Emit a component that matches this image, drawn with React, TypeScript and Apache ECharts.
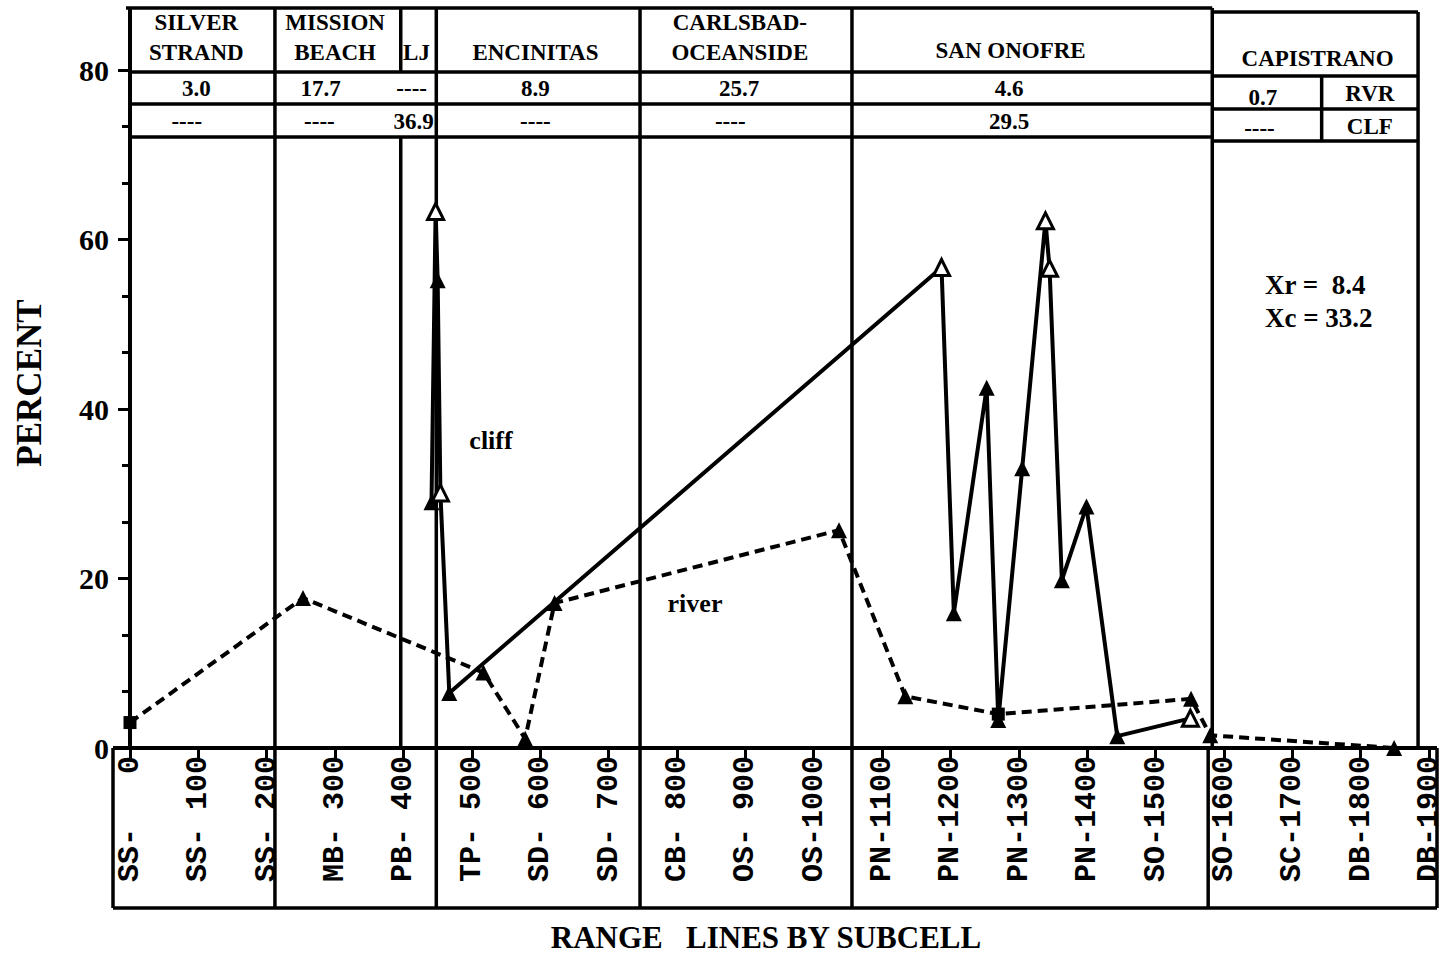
import React, { useEffect, useRef } from "react";
import * as echarts from "echarts";

// ---------- data ----------
const Y_MIN = 0;
const Y_MAX = 80;
const Y_INTERVAL = 20;

const X_MIN = 0;
const X_MAX = 1900;
const X_INTERVAL = 100;
const X_TICK_PREFIXES = [
  "SS", "SS", "SS", "MB", "PB", "TP", "SD", "SD", "CB", "OS",
  "OS", "PN", "PN", "PN", "PN", "SO", "SO", "SC", "DB", "DB",
];

// river (dashed)
const RIVER_X = [0, 253, 517, 578, 621, 1037, 1134, 1270, 1552, 1580, 1849];
const RIVER_Y = [3.0, 17.7, 8.9, 1.1, 17.1, 25.7, 6.1, 4.0, 5.8, 1.5, 0.0];
const RIVER_SYMBOLS = ["rect", "triangle", "triangle", "triangle", "triangle", "triangle", "triangle", "rect", "triangle", "triangle", "triangle"];

// cliff (solid)
const CLIFF_X = [441, 447, 450, 454, 467, 1187, 1205, 1253, 1270, 1305, 1339, 1345, 1363, 1399, 1444, 1551];
const CLIFF_Y = [29.0, 63.3, 55.2, 30.1, 6.5, 56.7, 15.9, 42.5, 3.3, 33.0, 62.2, 56.6, 19.8, 28.5, 1.4, 3.5];
const CLIFF_HOLLOW = [false, true, false, true, false, true, false, false, false, false, true, true, false, false, false, true];

// subcell table
const SUBCELL_NAMES = ["SILVER\nSTRAND", "MISSION\nBEACH", "LJ", "ENCINITAS", "CARLSBAD-\nOCEANSIDE", "SAN ONOFRE", "CAPISTRANO"];
const RVR_VALUES = ["3.0", "17.7", "----", "8.9", "25.7", "4.6", "0.7"];
const CLF_VALUES = ["----", "----", "36.9", "----", "----", "29.5", "----"];
const ROW_LABELS = ["RVR", "CLF"];
const SUBCELL_BOUNDS = [212, 396, 448, 746, 1056, 1583];
const LABEL_BOX_BOUNDS = [212, 448, 746, 1056, 1577];
const TABLE_RIGHT = 1884;
const CAP_SPLIT = 1743;

const SERIES_NAMES = ["river", "cliff"];
const STATS = ["Xr =  8.4", "Xc = 33.2"];
const X_TITLE = "RANGE\u00A0\u00A0\u00A0LINES BY SUBCELL";
const Y_TITLE = "PERCENT";

// ---------- layout (pixels / x-positions of texts) ----------
const GRID = { left: 130, right: 12, top: 70, bottom: 208 };
const HEADER_TEXT_X = [97, 300, 419, 593, 892, 1288, 1737];
const HEADER_TEXT_Y = [37, 37, 52, 52, 37, 50, 58];
const RVR_TEXT_X = [97, 279, 412, 593, 891, 1286, 1657];
const CLF_TEXT_X = [83, 277, 415, 593, 878, 1286, 1652];

const SERIF = "'Liberation Serif', 'Times New Roman', serif";
const MONO = "'Liberation Mono', 'Courier New', monospace";

export default function App() {
  const ref = useRef<HTMLDivElement>(null);

  useEffect(() => {
    if (!ref.current) return;
    const chart = echarts.init(ref.current, undefined, { renderer: "svg" });

    const riverData = RIVER_X.map((x, i) => ({
      value: [x, RIVER_Y[i]],
      symbol: RIVER_SYMBOLS[i],
      symbolSize: RIVER_SYMBOLS[i] === "rect" ? 13 : 16,
    }));
    const cliffData = CLIFF_X.map((x, i) => ({
      value: [x, CLIFF_Y[i]],
      itemStyle: CLIFF_HOLLOW[i]
        ? { color: "#fff", borderColor: "#000", borderWidth: 3 }
        : { color: "#000" },
    }));

    chart.setOption({
      animation: false,
      backgroundColor: "#fff",
      grid: { ...GRID, containLabel: false, outerBoundsMode: "none" },
      xAxis: {
        type: "value",
        min: X_MIN,
        max: X_MAX,
        interval: X_INTERVAL,
        axisLine: { show: true, lineStyle: { color: "#000", width: 4 } },
        axisTick: { show: true, length: 12, lineStyle: { color: "#000", width: 3 } },
        splitLine: { show: false },
        axisLabel: {
          rotate: 90,
          margin: 8,
          color: "#000",
          fontFamily: MONO,
          fontWeight: "bold",
          fontSize: 30,
          lineHeight: 18,
          showMaxLabel: true,
          showMinLabel: true,
          hideOverlap: false,
          formatter: (v: number) => {
            const i = Math.round(v / X_INTERVAL);
            const num = String(v).padStart(4, "\u00A0");
            return X_TICK_PREFIXES[i] + "-" + num;
          },
        },
      },
      yAxis: {
        type: "value",
        min: Y_MIN,
        max: Y_MAX,
        interval: Y_INTERVAL,
        axisLine: { show: true, lineStyle: { color: "#000", width: 4 } },
        axisTick: { show: true, length: 12, lineStyle: { color: "#000", width: 3 } },
        minorTick: { show: true, splitNumber: 3, length: 8, lineStyle: { color: "#000", width: 3 } },
        splitLine: { show: false },
        axisLabel: {
          margin: 21,
          color: "#000",
          fontFamily: SERIF,
          fontWeight: "bold",
          fontSize: 30,
        },
      },
      series: [
        {
          name: SERIES_NAMES[0],
          type: "line",
          data: riverData,
          symbol: "triangle",
          symbolSize: 16,
          itemStyle: { color: "#000" },
          lineStyle: { color: "#000", width: 4, type: [10, 6] },
          z: 5,
        },
        {
          name: SERIES_NAMES[1],
          type: "line",
          data: cliffData,
          symbol: "triangle",
          symbolSize: 16,
          itemStyle: { color: "#000" },
          lineStyle: { color: "#000", width: 4 },
          z: 6,
        },
      ],
    });

    const px = (v: number) => chart.convertToPixel({ xAxisIndex: 0 }, v) as number;
    const py = (v: number) => chart.convertToPixel({ yAxisIndex: 0 }, v) as number;
    const x0 = px(0);
    const yBottom = py(0);
    const yTop80 = py(80);

    const line = (x1: number, y1: number, x2: number, y2: number, w = 3.5) => ({
      type: "line",
      shape: { x1, y1, x2, y2 },
      style: { stroke: "#000", lineWidth: w },
      silent: true,
    });
    const text = (t: string, x: number, y: number, size: number, extra: any = {}) => ({
      type: "text",
      x,
      y,
      silent: true,
      style: {
        text: t,
        fill: "#000",
        fontFamily: SERIF,
        fontWeight: "bold",
        fontSize: size,
        align: "center",
        verticalAlign: "middle",
        lineHeight: 30,
        ...extra,
      },
    });

    const g: any[] = [];
    const T0 = 8, R1 = yTop80 + 2, R2 = 104, R3 = 137;
    const capX = px(SUBCELL_BOUNDS[5]);
    const rightX = px(TABLE_RIGHT);
    const capSplitX = px(CAP_SPLIT);
    const C0 = 12, C1 = 76, C2 = 109, C3 = 141;

    // y-axis extension / table left border
    g.push(line(x0, yTop80, x0, T0, 4));
    // main table horizontal lines
    g.push(line(x0 - 4, T0, capX, T0));
    g.push(line(x0, R1, capX, R1));
    g.push(line(x0, R2, capX, R2));
    g.push(line(x0, R3, capX, R3));
    // capistrano box
    g.push(line(capX, C0, rightX, C0));
    g.push(line(capX, C1, rightX, C1));
    g.push(line(capX, C2, rightX, C2));
    g.push(line(capX, C3, rightX, C3));
    g.push(line(capSplitX, C1, capSplitX, C3));
    g.push(line(rightX, C0, rightX, yBottom));
    // subcell divider lines
    SUBCELL_BOUNDS.forEach((b, i) => {
      const x = px(b);
      if (i === 1) {
        g.push(line(x, T0, x, R1));
        g.push(line(x, R3, x, yBottom));
      } else {
        g.push(line(x, T0, x, yBottom));
      }
    });

    // bottom label box
    const boxL = x0 - 17, boxR = px(X_MAX) + 8, boxB = 908;
    g.push(line(boxL, yBottom, boxL, boxB));
    g.push(line(boxR, yBottom, boxR, boxB));
    g.push(line(boxL, boxB, boxR, boxB));
    g.push(line(boxL, yBottom, x0, yBottom, 4));
    g.push(line(px(X_MAX), yBottom, boxR, yBottom, 4));
    LABEL_BOX_BOUNDS.forEach((b) => {
      const x = px(b);
      g.push(line(x, yBottom, x, boxB));
    });

    // table texts
    SUBCELL_NAMES.forEach((n, i) => {
      g.push(text(n, px(HEADER_TEXT_X[i]), HEADER_TEXT_Y[i], 23));
    });
    RVR_VALUES.forEach((v, i) => {
      g.push(text(v, px(RVR_TEXT_X[i]), i === 6 ? 97 : 88, 23));
    });
    CLF_VALUES.forEach((v, i) => {
      g.push(text(v, px(CLF_TEXT_X[i]), i === 6 ? 128 : 121, 23));
    });
    g.push(text(ROW_LABELS[0], (capSplitX + rightX) / 2, 93, 23));
    g.push(text(ROW_LABELS[1], (capSplitX + rightX) / 2, 126, 23));

    // annotations
    g.push(text(SERIES_NAMES[1], 491, 440, 26));
    g.push(text(SERIES_NAMES[0], 695, 603, 26));
    g.push(text(STATS[0], 1265, 285, 27, { align: "left" }));
    g.push(text(STATS[1], 1265, 318, 27, { align: "left" }));

    // axis titles
    g.push(text(X_TITLE, 766, 937, 31));
    g.push({
      type: "text",
      x: 29,
      y: 383,
      rotation: Math.PI / 2,
      silent: true,
      style: {
        text: Y_TITLE,
        fill: "#000",
        fontFamily: SERIF,
        fontWeight: "bold",
        fontSize: 35,
        align: "center",
        verticalAlign: "middle",
      },
    });

    chart.setOption({ graphic: { elements: g } });

    return () => chart.dispose();
  }, []);

  return (
    <div
      ref={ref}
      style={{ position: "fixed", left: 0, top: 0, width: 1441, height: 956, background: "#fff" }}
    />
  );
}
